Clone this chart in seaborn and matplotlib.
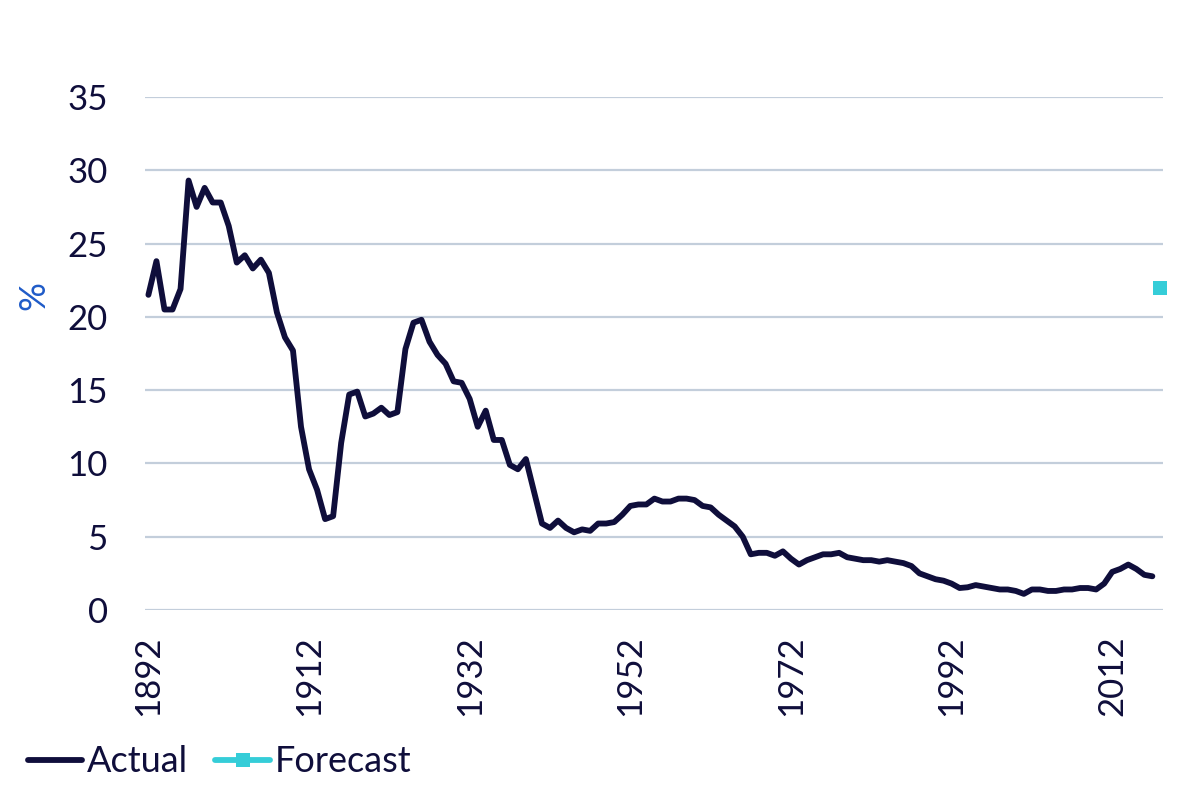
import numpy as np
import pandas as pd
import matplotlib
matplotlib.use("Agg")
import matplotlib.pyplot as plt
import seaborn as sns

# Actual series, one value per year from 1892 to 2017 (%)
actual_years = list(range(1892, 2018))
actual_values = [
    21.5, 23.8, 20.5, 20.5, 21.9, 29.3, 27.5, 28.8,              # 1892-1899
    27.8, 27.8, 26.2, 23.7, 24.2, 23.3, 23.9, 23.0, 20.3, 18.6,  # 1900-1909
    17.7, 12.5, 9.6, 8.2, 6.2, 6.4, 11.4, 14.7, 14.9, 13.2,      # 1910-1919
    13.4, 13.8, 13.3, 13.5, 17.8, 19.6, 19.8, 18.3, 17.4, 16.8,  # 1920-1929
    15.6, 15.5, 14.4, 12.5, 13.6, 11.6, 11.6, 9.9, 9.6, 10.3,    # 1930-1939
    8.1, 5.9, 5.6, 6.1, 5.6, 5.3, 5.5, 5.4, 5.9, 5.9,            # 1940-1949
    6.0, 6.5, 7.1, 7.2, 7.2, 7.6, 7.4, 7.4, 7.6, 7.6,            # 1950-1959
    7.5, 7.1, 7.0, 6.5, 6.1, 5.7, 5.0, 3.8, 3.9, 3.9,            # 1960-1969
    3.7, 4.0, 3.5, 3.1, 3.4, 3.6, 3.8, 3.8, 3.9, 3.6,            # 1970-1979
    3.5, 3.4, 3.4, 3.3, 3.4, 3.3, 3.2, 3.0, 2.5, 2.3,            # 1980-1989
    2.1, 2.0, 1.8, 1.5, 1.55, 1.7, 1.6, 1.5, 1.4, 1.4,           # 1990-1999
    1.3, 1.1, 1.4, 1.4, 1.3, 1.3, 1.4, 1.4, 1.5, 1.5,            # 2000-2009
    1.4, 1.8, 2.6, 2.8, 3.1, 2.8, 2.4, 2.3,                      # 2010-2017
]

forecast_years = [2018]
forecast_values = [22.0]

tick_years = [1892, 1912, 1932, 1952, 1972, 1992, 2012]
y_ticks = [0, 5, 10, 15, 20, 25, 30, 35]

NAVY = "#0f0e3b"
CYAN = "#35cdd8"
GRID = "#c3cedb"
BLUE = "#1f5bc8"

df_actual = pd.DataFrame({"Year": actual_years, "Value": actual_values})
df_forecast = pd.DataFrame({"Year": forecast_years, "Value": forecast_values})

sns.set_style("white")
plt.rcParams["font.family"] = ["Lato", "DejaVu Sans"]

fig = plt.figure(figsize=(12, 8.02), dpi=100)
ax = fig.add_axes([0.121, 0.2394, 0.848, 0.6397])

sns.lineplot(data=df_actual, x="Year", y="Value", ax=ax, color=NAVY,
             linewidth=4.2, label="Actual")
sns.lineplot(data=df_forecast, x="Year", y="Value", ax=ax, color=CYAN,
             linewidth=4.2, marker="s", markersize=10, markeredgewidth=0,
             label="Forecast")
for line in ax.get_lines():
    line.set_clip_on(False)

ax.set_xlim(1891.6, 2018.3)
ax.set_ylim(0, 35)
ax.set_xticks(tick_years)
ax.set_xticklabels([str(y) for y in tick_years], rotation=90)
ax.set_yticks(y_ticks)
ax.set_yticklabels([str(v) for v in y_ticks])
ax.tick_params(axis="y", length=0, pad=27, labelsize=25, labelcolor=NAVY)
ax.tick_params(axis="x", length=0, pad=18, labelsize=25, labelcolor=NAVY)

ax.grid(axis="y", color=GRID, linewidth=1.6)
ax.grid(axis="x", visible=False)
ax.set_axisbelow(True)
for side in ["top", "right", "left", "bottom"]:
    ax.spines[side].set_visible(False)
ax.set_xlabel("")
ax.set_ylabel("")

fig.text(0.028, 1 - 295 / 802, "%", rotation=90, color=BLUE, fontsize=26,
         ha="center", va="center")

handles, labels = ax.get_legend_handles_labels()
ax.get_legend().remove()
fig.legend(handles, labels, loc="center left", bbox_to_anchor=(-0.004, 0.05),
           ncol=2, frameon=False, fontsize=26, labelcolor=NAVY,
           handlelength=1.5, handletextpad=0.15, columnspacing=0.75)

fig.savefig("out.png", dpi=100)
plt.close(fig)
